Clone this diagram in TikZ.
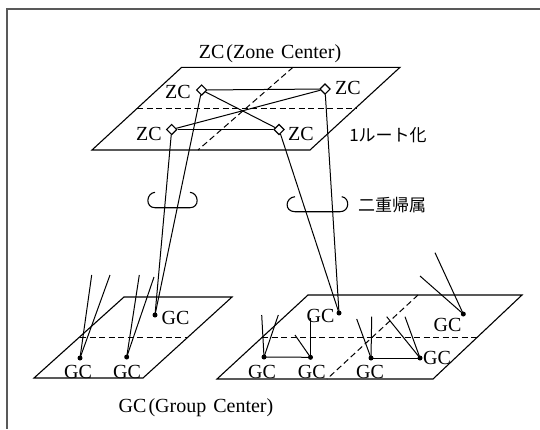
\documentclass[tikz,border=0pt]{standalone}
\usepackage{fontspec}
\setmainfont{Liberation Serif}
\newfontfamily\jpfont{Noto Sans CJK JP}
\usetikzlibrary{shapes.geometric}
\begin{document}
\begin{tikzpicture}[x=1pt,y=-1pt,
  plane/.style={draw, line width=1.1pt, line join=miter},
  dashline/.style={draw, line width=1pt, dash pattern=on 6pt off 3.5pt},
  zc/.style={diamond, draw, fill=white, line width=1.1pt, minimum size=10.5pt, inner sep=0pt},
  gc/.style={circle, fill=black, minimum size=5pt, inner sep=0pt},
  lbl/.style={inner sep=0pt, font=\fontsize{20}{22}\selectfont},
  jlbl/.style={inner sep=0pt, font=\jpfont\fontsize{17}{19}\selectfont},
  link/.style={draw, line width=1pt},
  hook/.style={draw, line width=1.1pt},
  frame/.style={draw, line width=1.3pt, black!65}]
\useasboundingbox (0,0) rectangle (540,429);
% frame
\draw[frame] (540,9) -- (7,9) -- (7,429);
% planes
\draw[plane] (181.7,67.3) -- (400,67.3) -- (310,150) -- (92,150) -- cycle;
\draw[plane] (124,297) -- (232,297) -- (143,378) -- (34,378) -- cycle;
\draw[plane] (308,295) -- (522,295) -- (433,379) -- (217,379) -- cycle;
% dashed lines
\draw[dashline] (137,108.3) -- (356,108.3);
\draw[dashline] (293,67.3) -- (198,150);
\draw[dashline] (80,337) -- (188,337);
\draw[dashline] (262,337) -- (478,337);
\draw[dashline] (418,295) -- (327,379);
% ZC nodes
\node[zc] (zTL) at (201.7,90) {};
\node[zc] (zTR) at (325,89) {};
\node[zc] (zBL) at (171.7,129.5) {};
\node[zc] (zBR) at (279,129.5) {};
\node[lbl] (tTL) at (178,92) {ZC};
\node[lbl] (tTR) at (348,88) {ZC};
\node[lbl] (tBL) at (149,134) {ZC};
\node[lbl] (tBR) at (301,134) {ZC};
\node[lbl] (ztitle) at (270,54) {ZC\hspace{2pt}(Zone\hspace{2pt} Center)};
\node[jlbl] (route) at (388,135) {1ルート化};
\node[jlbl] (dual) at (392,205) {二重帰属};
\node[lbl] (gtitle) at (196,408) {GC\hspace{2pt}(Group\hspace{2pt} Center)};
% ZC mesh
\draw[link] (zTL) -- (zTR);
\draw[link] (zBL) -- (zBR);
\draw[link] (zTL) -- (zBR);
\draw[link] (zBL) -- (zTR);
% GC nodes, left plane
\node[gc] (gL1) at (80,358) {};
\node[gc] (gL2) at (126.7,357) {};
\node[gc] (gL3) at (155,315) {};
\node[lbl] at (78,372) {GC};
\node[lbl] at (127,372) {GC};
\node[lbl] at (175.5,318) {GC};
% GC nodes, right plane
\node[gc] (gR1) at (339,313) {};
\node[gc] (gR2) at (463.3,314) {};
\node[gc] (gR3) at (264,357) {};
\node[gc] (gR4) at (310.5,357.3) {};
\node[gc] (gR5) at (371,358) {};
\node[gc] (gR6) at (420,358) {};
\node[lbl] at (320.5,315.5) {GC};
\node[lbl] at (447.5,324.5) {GC};
\node[lbl] at (262,372) {GC};
\node[lbl] at (311.7,372) {GC};
\node[lbl] at (370,372) {GC};
\node[lbl] at (437,358) {GC};
% dual-homing links
\draw[link] (zBL) -- (gL3.center);
\draw[link] (zTL) -- (gL3.center);
\draw[link] (zBR) -- (gR1.center);
\draw[link] (zTR) -- (gR1.center);
% free ends
\coordinate (e1) at (91.7,275);
\coordinate (e2) at (110,275);
\coordinate (e3) at (139.3,275);
\coordinate (e4) at (154,277);
\coordinate (e5) at (261.7,315);
\coordinate (e6) at (278.3,315);
\coordinate (e7) at (310.5,318);
\coordinate (e8) at (295,335);
\coordinate (e9) at (356.7,319);
\coordinate (e10) at (371.7,316.7);
\coordinate (e11) at (386.7,316.7);
\coordinate (e12) at (405,316.7);
\coordinate (e13) at (420,276);
\coordinate (e14) at (435,252.7);
\draw[link] (gL1.center) -- (e1);
\draw[link] (gL1.center) -- (e2);
\draw[link] (gL2.center) -- (e3);
\draw[link] (gL2.center) -- (e4);
\draw[link] (gR3.center) -- (e5);
\draw[link] (gR3.center) -- (e6);
\draw[link] (gR4.center) -- (e7);
\draw[link] (gR4.center) -- (e8);
\draw[link] (gR5.center) -- (e9);
\draw[link] (gR5.center) -- (e10);
\draw[link] (gR6.center) -- (e11);
\draw[link] (gR6.center) -- (e12);
\draw[link] (gR2.center) -- (e13);
\draw[link] (gR2.center) -- (e14);
\draw[link] (gR3.center) -- (gR4.center);
\draw[link] (gR5.center) -- (gR6.center);
% hooks
\draw[hook] (155,192.3) .. controls (146,193) and (145,207.7) .. (155,207.7) -- (190,207.7) .. controls (200,207.7) and (199,193) .. (190,192.3);
\draw[hook] (295,196.7) .. controls (285,197.5) and (284,211.7) .. (295,211.7) -- (340,211.7) .. controls (350,211.7) and (350,197.5) .. (341.7,196.7);
\end{tikzpicture}
\end{document}
